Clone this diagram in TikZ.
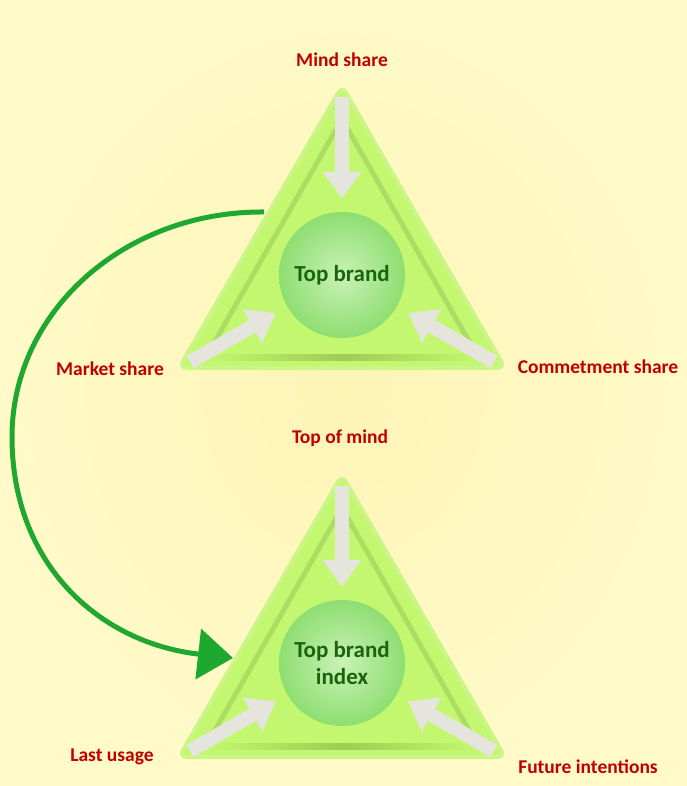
\documentclass[tikz,border=0pt]{standalone}
\usepackage{fontspec}
\setmainfont{Carlito}
\usetikzlibrary{arrows.meta}

\definecolor{bgpale}{HTML}{FFFAC8}
\definecolor{bgwarm}{HTML}{FDF4B6}
\definecolor{trifill}{HTML}{C2F76F}
\definecolor{triedge}{HTML}{CBF687}
\definecolor{trigroove}{HTML}{ACDC61}
\definecolor{groovedark}{HTML}{9ECC54}
\definecolor{ballin}{HTML}{CAF2B6}
\definecolor{ballout}{HTML}{8EDE72}
\definecolor{balltext}{HTML}{1A6410}
\definecolor{labelred}{HTML}{C00000}
\definecolor{flowgreen}{HTML}{1FA82F}
\definecolor{pushgray}{HTML}{E5E5DE}

\tikzset{
  factor/.style={text=labelred, font=\bfseries\fontsize{19.5}{22}\selectfont},
  ball/.style={circle, minimum size=126pt, inner sep=0pt, inner color=ballin,
    outer color=ballout, text=balltext, align=center,
    font=\bfseries\fontsize{23}{27}\selectfont},
  groove/.style={draw=trigroove, line width=5pt},
  push/.style={draw=pushgray, line width=14pt, shorten >=13pt,
    -{Triangle[length=27pt,width=37pt]}},
  flow/.style={draw=flowgreen, line width=5pt,
    -{Triangle[length=35pt,width=50pt]}}
}

\begin{document}
\begin{tikzpicture}[x=1pt,y=-1pt]
    % Background
    \shade[inner color=bgwarm, outer color=bgpale] (0,0) rectangle (687,786);
    \useasboundingbox (0,0) rectangle (687,786);

    % Upper triangle
    \filldraw[fill=trifill, draw=triedge, line width=4pt, rounded corners=8pt]
      (342,86) -- (505,368) -- (179,368) -- cycle;
    \draw[groove] (206,357) -- (342,119) -- (478,357);
    \shade[left color=trifill, right color=trifill, middle color=groovedark]
      (206,354) rectangle (478,360);
    \node[ball] (core1) at (342,275) {Top brand};
    \coordinate (mindin) at (342,97);
    \coordinate (marketin) at (190,362);
    \coordinate (commitin) at (494,362);
    \draw[push] (mindin) -- (core1);
    \draw[push] (marketin) -- (core1);
    \draw[push] (commitin) -- (core1);

    % Lower triangle
    \begin{scope}[shift={(0,389)}]
      \filldraw[fill=trifill, draw=triedge, line width=4pt, rounded corners=8pt]
        (342,86) -- (505,368) -- (179,368) -- cycle;
      \draw[groove] (206,357) -- (342,119) -- (478,357);
      \shade[left color=trifill, right color=trifill, middle color=groovedark]
        (206,354) rectangle (478,360);
      \node[ball] (core2) at (342,274) {Top brand\\index};
      \coordinate (topin) at (342,97);
      \coordinate (lastin) at (190,362);
      \coordinate (futurein) at (494,362);
      \draw[push] (topin) -- (core2);
      \draw[push] (lastin) -- (core2);
      \draw[push] (futurein) -- (core2);
    \end{scope}

    % Labels
    \node[factor] (mind) at (342,60) {Mind share};
    \node[factor] (market) at (110,369) {Market share};
    \node[factor] (commit) at (598,367) {Commetment share};
    \node[factor] (topmind) at (340,438) {Top of mind};
    \node[factor] (last) at (112,757) {Last usage};
    \node[factor] (future) at (588,767) {Future intentions};

    % Curved arrow between the triangles
    \coordinate (arcstart) at (264,212);
    \coordinate (arcend) at (233,658);
    \draw[flow] (arcstart) .. controls (124,211) and (12,312) .. (12,437)
      .. controls (12,565) and (100,643) .. (arcend);
\end{tikzpicture}
\end{document}
